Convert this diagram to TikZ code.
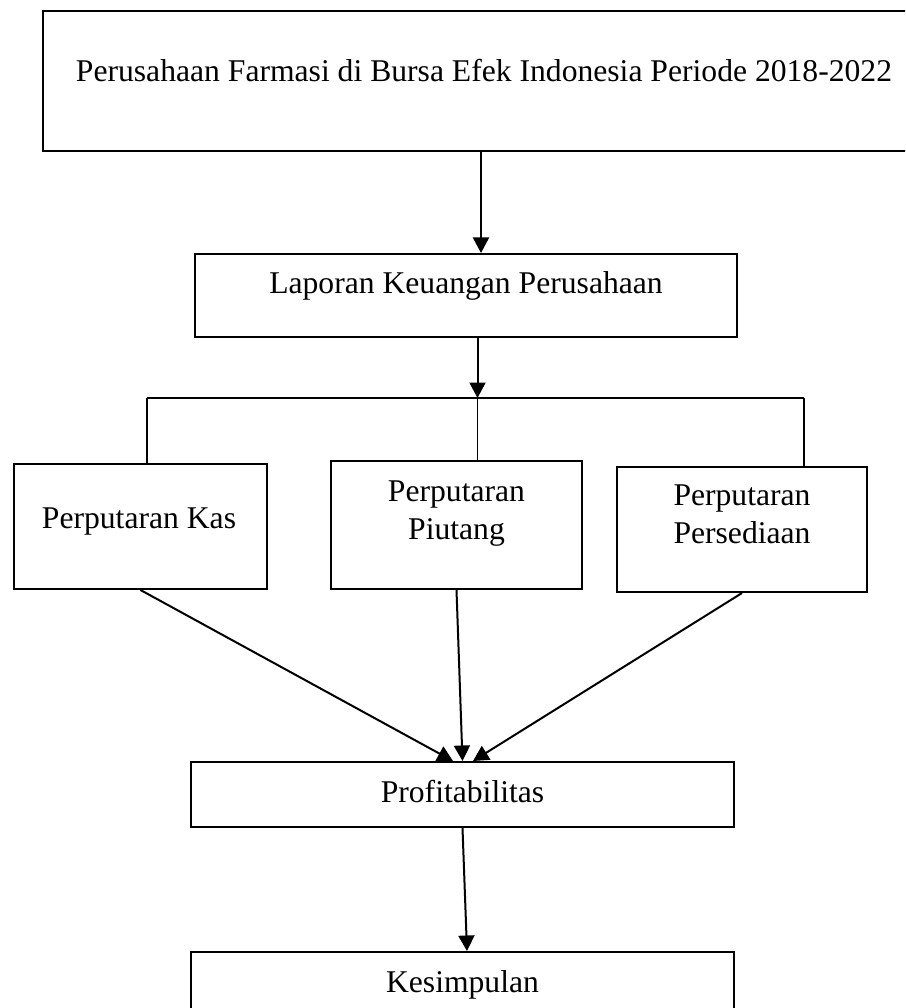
\documentclass[tikz,border=0pt]{standalone}
\usepackage{fontspec}
\setmainfont{Liberation Serif}
\usetikzlibrary{arrows.meta}
\tikzset{
    box/.style={draw,line width=0.4mm,inner sep=0pt},
    txt/.style={font=\fontsize{18}{21.6}\selectfont,align=center,inner sep=0pt},
    arr/.style={line width=0.4mm,-{Triangle[length=3.1mm,width=3.2mm]}},
    fan/.style={line width=0.22mm},
}
\begin{document}
\begin{tikzpicture}[x=1mm,y=-1mm]
    \path[use as bounding box,clip] (0,0) rectangle (181,201.6);
    %% boxes
    \node[box,minimum width=174.4mm,minimum height=28mm] (firm) at (95.8,16.2) {};
    \node[box,minimum width=108.4mm,minimum height=16.6mm] (lap) at (93.2,59.1) {};
    \node[box,minimum width=50.6mm,minimum height=25mm] (kas) at (28.1,105.3) {};
    \node[box,minimum width=50.2mm,minimum height=25.6mm] (piu) at (91.3,105) {};
    \node[box,minimum width=50mm,minimum height=25mm] (pers) at (148.4,105.9) {};
    \node[box,minimum width=108.6mm,minimum height=13mm] (prof) at (92.5,158.9) {};
    \node[box,minimum width=108.6mm,minimum height=20mm] (kes) at (92.5,200.4) {};
    %% texts
    \node[txt,anchor=base] (firmtxt) at (96.8,16.4) {Perusahaan Farmasi di Bursa Efek Indonesia Periode 2018-2022};
    \node[txt,anchor=base] (laptxt) at (93.2,58.6) {Laporan Keuangan Perusahaan};
    \node[txt,anchor=base] (kastxt) at (27.8,105.6) {Perputaran Kas};
    \node[txt] (piutxt) at (91.3,102.7) {Perputaran\\Piutang};
    \node[txt] (perstxt) at (148.4,102.9) {Perputaran\\Persediaan};
    \node[txt,anchor=base] (proftxt) at (92.5,160.4) {Profitabilitas};
    \node[txt,anchor=base] (kestxt) at (92.5,198.4) {Kesimpulan};
    %% links
    \coordinate (hubL) at (29.4,79.6);
    \coordinate (hubM) at (95.5,79.6);
    \coordinate (hubR) at (160.8,79.6);
    \draw[arr] ([xshift=0.4mm]firm.south) -- ([xshift=0.4mm]firm.south |- lap.north);
    \draw[arr] (lap.south -| hubM) -- (hubM);
    \draw[fan] (hubL) -- (hubR);
    \foreach \b/\h in {kas/hubL,piu/hubM,pers/hubR}
        \draw[fan] (\h) -- (\b.north -| \h);
    \foreach \b/\s in {kas/-1.9,piu/0,pers/2.1}
        \draw[arr] (\b.south) -- ([xshift=\s mm]prof.north);
    \draw[arr] (prof.south) -- ([xshift=0.9mm]kes.north);
\end{tikzpicture}
\end{document}
